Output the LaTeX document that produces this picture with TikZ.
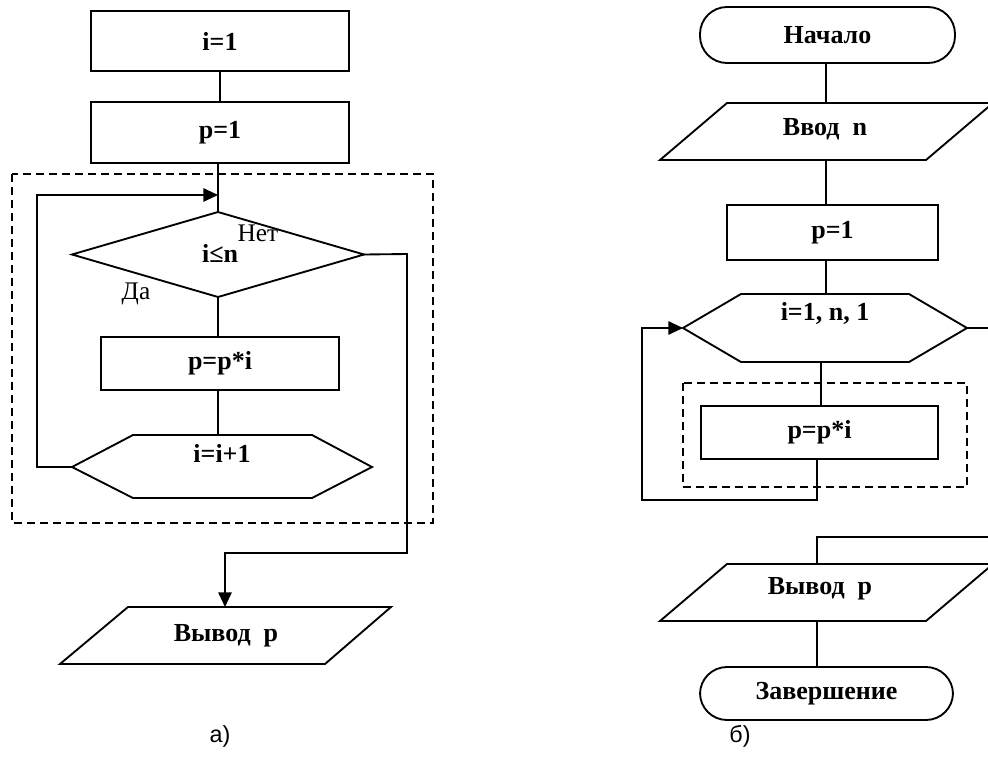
\documentclass[tikz,border=0pt]{standalone}
\usepackage{fontspec}
\setmainfont{Liberation Serif}
\newfontfamily\sansf{Liberation Sans}
\usetikzlibrary{arrows.meta,shapes.geometric}
\newdimen\pxu \pxu=0.75pt
\begin{document}
\begin{tikzpicture}[x=0.75pt,y=-0.75pt,line width=1.4pt,line join=miter,
  bfont/.style={font=\bfseries\fontsize{19.5}{22}\selectfont},
  box/.style={draw,rectangle,inner sep=0pt,outer sep=0pt,bfont},
  term/.style={box,rounded corners=27\pxu},
  lbl/.style={inner sep=0pt,bfont},
  note/.style={inner sep=0pt,font=\fontsize{19}{21}\selectfont},
  figcap/.style={inner sep=0pt,font=\sansf\fontsize{17.5}{20}\selectfont},
  frame/.style={line width=1.3pt,dash pattern=on 6pt off 3.75pt},
  arr/.style={-{Triangle[length=11pt,width=10pt]}}]
\useasboundingbox (0,0) rectangle (988,778);
\clip (0,0) rectangle (988,778);
\fill[white] (0,0) rectangle (988,778);

% ---------------- diagram a) ----------------
\node[box,minimum width=258\pxu,minimum height=60\pxu] (i1) at (220,41) {i=1};
\node[box,minimum width=258\pxu,minimum height=61\pxu] (p1) at (220,132.5) {p=1};
\draw[frame] (12,174) rectangle (433,523);
\node[draw,diamond,inner sep=0pt,outer sep=0pt,minimum width=292\pxu,minimum height=85\pxu] (cond) at (218,254.5) {};
\node[lbl] (condt) at (220,253) {i≤n};
\node[note] (net) at (258,233) {Нет};
\node[note] (da) at (136,294) {Да};
\node[box,minimum width=238\pxu,minimum height=53\pxu] (mul) at (220,363.5) {p=p*i};
% hexagon i=i+1
\coordinate (hL) at (72,467);
\coordinate (hTL) at (133,435);
\coordinate (hTR) at (312,435);
\coordinate (hR) at (372,467);
\coordinate (hBR) at (312,498);
\coordinate (hBL) at (133,498);
\coordinate (hT) at (218,435);
\draw (hL) -- (hTL) -- (hTR) -- (hR) -- (hBR) -- (hBL) -- cycle;
\node[lbl] (inc) at (222,453) {i=i+1};
% output parallelogram a)
\coordinate (oTL) at (128,607);
\coordinate (oTR) at (391,607);
\coordinate (oBR) at (325,664);
\coordinate (oBL) at (60,664);
\coordinate (oT) at (225,607);
\draw (oTL) -- (oTR) -- (oBR) -- (oBL) -- cycle;
\node[lbl] (outa) at (226,636) {Вывод\enspace p};
% connectors a)
\draw (i1.south) -- (i1.south |- p1.north);
\draw (cond.north |- p1.south) -- (cond.north);
\draw (cond.south) -- (cond.south |- mul.north);
\draw (cond.south |- mul.south) -- (hT);
\coordinate (lpA) at (37,467);
\coordinate (lpB) at (37,195);
\coordinate (lpC) at (218,195);
\draw[arr] (hL) -- (lpA) -- (lpB) -- (lpC);
\coordinate (exA) at (407,254);
\coordinate (exB) at (407,553);
\coordinate (exC) at (225,553);
\draw[arr] (cond.east) -- (exA) -- (exB) -- (exC) -- (oT);
\node[figcap] (capa) at (220,736) {а)};

% ---------------- diagram b) ----------------
\node[term,minimum width=255\pxu,minimum height=56\pxu] (start) at (827.5,35) {Начало};
% input parallelogram
\coordinate (iTL) at (727,103);
\coordinate (iTR) at (993,103);
\coordinate (iBR) at (926,160);
\coordinate (iBL) at (660,160);
\coordinate (iT) at (826,103);
\coordinate (iB) at (826,160);
\draw (iTL) -- (iTR) -- (iBR) -- (iBL) -- cycle;
\node[lbl] (inb) at (825,129) {Ввод\enspace n};
\node[box,minimum width=211\pxu,minimum height=55\pxu] (p1b) at (832.5,232.5) {p=1};
% loop hexagon
\coordinate (gL) at (683,328);
\coordinate (gTL) at (741,294);
\coordinate (gTR) at (909,294);
\coordinate (gR) at (967,328);
\coordinate (gBR) at (909,362);
\coordinate (gBL) at (741,362);
\coordinate (gT) at (826,294);
\coordinate (gB) at (821,362);
\draw (gL) -- (gTL) -- (gTR) -- (gR) -- (gBR) -- (gBL) -- cycle;
\node[lbl] (loop) at (825,313) {i=1, n, 1};
\draw[frame] (683,383) rectangle (967,487);
\node[box,minimum width=237\pxu,minimum height=53\pxu] (mulb) at (819.5,432.5) {p=p*i};
% output parallelogram b)
\coordinate (qTL) at (727,564);
\coordinate (qTR) at (993,564);
\coordinate (qBR) at (926,621);
\coordinate (qBL) at (660,621);
\coordinate (qT) at (817,564);
\coordinate (qB) at (817,621);
\draw (qTL) -- (qTR) -- (qBR) -- (qBL) -- cycle;
\node[lbl] (outb) at (820,589) {Вывод\enspace p};
\node[term,minimum width=253\pxu,minimum height=53\pxu] (fin) at (826.5,693.5) {Завершение};
% connectors b)
\draw (start.south -| iT) -- (iT);
\draw (iB) -- (iB |- p1b.north);
\draw (gT |- p1b.south) -- (gT);
\draw (gB) -- (gB |- mulb.north);
\coordinate (rA) at (817,500);
\coordinate (rB) at (642,500);
\coordinate (rC) at (642,328);
\draw[arr] (rA |- mulb.south) -- (rA) -- (rB) -- (rC) -- (gL);
\coordinate (gE) at (992,328);
\draw (gR) -- (gE);
\coordinate (xA) at (992,537);
\coordinate (xB) at (817,537);
\draw (xA) -- (xB) -- (qT);
\draw (qB) -- (qB |- fin.north);
\node[figcap] (capb) at (740,736) {б)};
\end{tikzpicture}
\end{document}
